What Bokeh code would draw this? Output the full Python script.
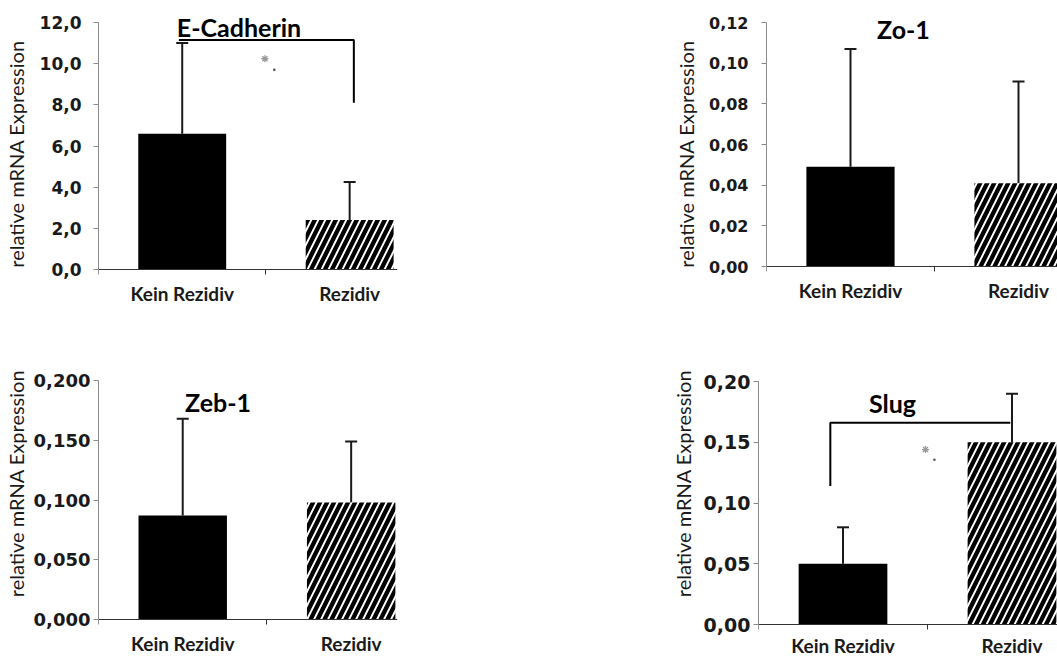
from bokeh.plotting import figure
from bokeh.layouts import column, row
from bokeh.models import Range1d, FixedTicker, Whisker, TeeHead, ColumnDataSource, Label
from bokeh.embed import file_html
from bokeh.resources import INLINE

# ---------------- data ----------------
categories = ["Kein Rezidiv", "Rezidiv"]

ecad_mean = [6.6, 2.4]
ecad_sd = [4.4, 1.85]
zo1_mean = [0.049, 0.041]
zo1_sd = [0.058, 0.050]
zeb1_mean = [0.087, 0.098]
zeb1_sd = [0.081, 0.051]
slug_mean = [0.050, 0.150]
slug_sd = [0.030, 0.040]

ecad_ticks = [0, 2, 4, 6, 8, 10, 12]
ecad_tick_labels = ["0,0", "2,0", "4,0", "6,0", "8,0", "10,0", "12,0"]
zo1_ticks = [0, 0.02, 0.04, 0.06, 0.08, 0.10, 0.12]
zo1_tick_labels = ["0,00", "0,02", "0,04", "0,06", "0,08", "0,10", "0,12"]
zeb1_ticks = [0, 0.05, 0.10, 0.15, 0.20]
zeb1_tick_labels = ["0,000", "0,050", "0,100", "0,150", "0,200"]
slug_ticks = [0, 0.05, 0.10, 0.15, 0.20]
slug_tick_labels = ["0,00", "0,05", "0,10", "0,15", "0,20"]

# significance annotations (data units)
ecad_bracket_x = [0.48, 1.525, 1.525]
ecad_bracket_y = [11.15, 11.15, 8.1]
ecad_star = [0.994, 10.24]
ecad_dot = [1.05, 9.70]
slug_bracket_x = [0.425, 0.425, 1.49]
slug_bracket_y = [0.114, 0.166, 0.166]
slug_star = [0.988, 0.144]
slug_dot = [1.041, 0.1356]

y_label = "relative mRNA Expression"
bar_colors = ["#000000", "#ffffff"]
bar_hatches = [" ", "/"]


def panel(title, means, sds, ticks, tick_labels, ymax,
          fig_x, fig_y, fig_w, fig_h, frame_left, frame_right, ytop_px, y0_px, cat_px,
          title_xy, tick_size, tick_standoff, label_standoff, xlabel_standoff,
          bracket=None, star=None, dot=None):
    left = frame_left - fig_x
    right = fig_x + fig_w - frame_right
    ppu = (y0_px - ytop_px) / ymax
    y_start = -(fig_y + fig_h - y0_px) / ppu
    y_end = ymax + (ytop_px - fig_y) / ppu
    x_end = (frame_right - frame_left) / cat_px

    p = figure(width=fig_w, height=fig_h, output_backend="svg", toolbar_location=None,
               x_range=Range1d(0, x_end), y_range=Range1d(y_start, y_end),
               min_border_left=left, min_border_right=right,
               min_border_top=0, min_border_bottom=0)
    p.outline_line_color = None
    p.xgrid.visible = False
    p.ygrid.visible = False
    p.background_fill_color = "white"
    p.border_fill_color = "white"

    xs = [i + 0.5 for i in range(len(categories))]
    src = ColumnDataSource(dict(
        x=xs, mean=means, upper=[m + s for m, s in zip(means, sds)],
        color=bar_colors, hatch=bar_hatches))

    p.vbar(x="x", top="mean", bottom=0, width=0.525, source=src,
           fill_color="color", line_color=None,
           hatch_pattern="hatch", hatch_color="black",
           hatch_scale=14, hatch_weight=4.3)

    w = Whisker(source=src, base="x", upper="upper", lower="mean",
                line_color="#1a1a1a", line_width=2,
                upper_head=TeeHead(size=12, line_color="#1a1a1a", line_width=2),
                lower_head=None)
    p.add_layout(w)

    if bracket is not None:
        p.line(bracket[0], bracket[1], line_color="black", line_width=2)
    if star is not None:
        p.scatter([star[0]], [star[1]], marker="asterisk", size=7,
                  line_color="#999999", line_width=1.3)
    if dot is not None:
        p.scatter([dot[0]], [dot[1]], marker="circle", size=2.6,
                  fill_color="#555555", line_color=None)

    # x axis (category axis, Excel-like: ticks between categories)
    xa = p.xaxis[0]
    xa.fixed_location = 0
    xa.ticker = FixedTicker(ticks=xs, minor_ticks=[0, 1])
    xa.major_label_overrides = {x: c for x, c in zip(xs, categories)}
    xa.major_tick_line_color = None
    xa.major_tick_out = 0
    xa.major_tick_in = 0
    xa.minor_tick_out = 5
    xa.minor_tick_in = 0
    xa.minor_tick_line_color = "#333333"
    xa.axis_line_color = "#333333"
    xa.axis_line_width = 1
    xa.major_label_text_font = "Lato"
    xa.major_label_text_font_style = "bold"
    xa.major_label_text_font_size = "19px"
    xa.major_label_text_color = "#1a1a1a"
    xa.major_label_standoff = xlabel_standoff

    ya = p.yaxis[0]
    ya.bounds = (0, ymax)
    ya.ticker = FixedTicker(ticks=ticks)
    ya.major_label_overrides = {t: l for t, l in zip(ticks, tick_labels)}
    ya.axis_line_color = "#8a8a8a"
    ya.major_tick_line_color = "#8a8a8a"
    ya.major_tick_out = 5
    ya.major_tick_in = 0
    ya.minor_tick_line_color = None
    ya.major_label_text_font = "DejaVu Sans"
    ya.major_label_text_font_style = "bold"
    ya.major_label_text_font_size = tick_size
    ya.major_label_text_color = "#1a1a1a"
    ya.major_label_standoff = tick_standoff
    ya.axis_label = y_label
    ya.axis_label_text_font = "Lato"
    ya.axis_label_text_font_style = "normal"
    ya.axis_label_text_font_size = "20px"
    ya.axis_label_text_color = "#1a1a1a"
    ya.axis_label_standoff = label_standoff

    p.add_layout(Label(x=title_xy[0], y=title_xy[1], text=title,
                       text_font="Lato", text_font_style="bold",
                       text_font_size="25px", text_color="black",
                       text_align="center", text_baseline="middle"))
    return p


p1 = panel("E-Cadherin", ecad_mean, ecad_sd, ecad_ticks, ecad_tick_labels, 12,
           0, 0, 640, 307, 97, 397, 22, 269, 168,
           (0.839, 11.76), "17px", 12, 9, 7,
           bracket=(ecad_bracket_x, ecad_bracket_y), star=ecad_star, dot=ecad_dot)
p2 = panel("Zo-1", zo1_mean, zo1_sd, zo1_ticks, zo1_tick_labels, 0.12,
           640, 0, 417, 307, 766, 1057, 22, 266, 168,
           (0.815, 0.117), "16px", 13, 8, 7)
p3 = panel("Zeb-1", zeb1_mean, zeb1_sd, zeb1_ticks, zeb1_tick_labels, 0.20,
           0, 307, 640, 352, 97, 397, 380, 619, 169,
           (0.71, 0.1816), "18px", 3, 3, 7)
p4 = panel("Slug", slug_mean, slug_sd, slug_ticks, slug_tick_labels, 0.20,
           640, 307, 417, 352, 758, 1057, 381, 624, 169,
           (0.793, 0.1825), "19px", 3, 6, 4,
           bracket=(slug_bracket_x, slug_bracket_y), star=slug_star, dot=slug_dot)

layout = column(row(p1, p2), row(p3, p4))
open("out.html", "w").write(file_html(layout, INLINE))
